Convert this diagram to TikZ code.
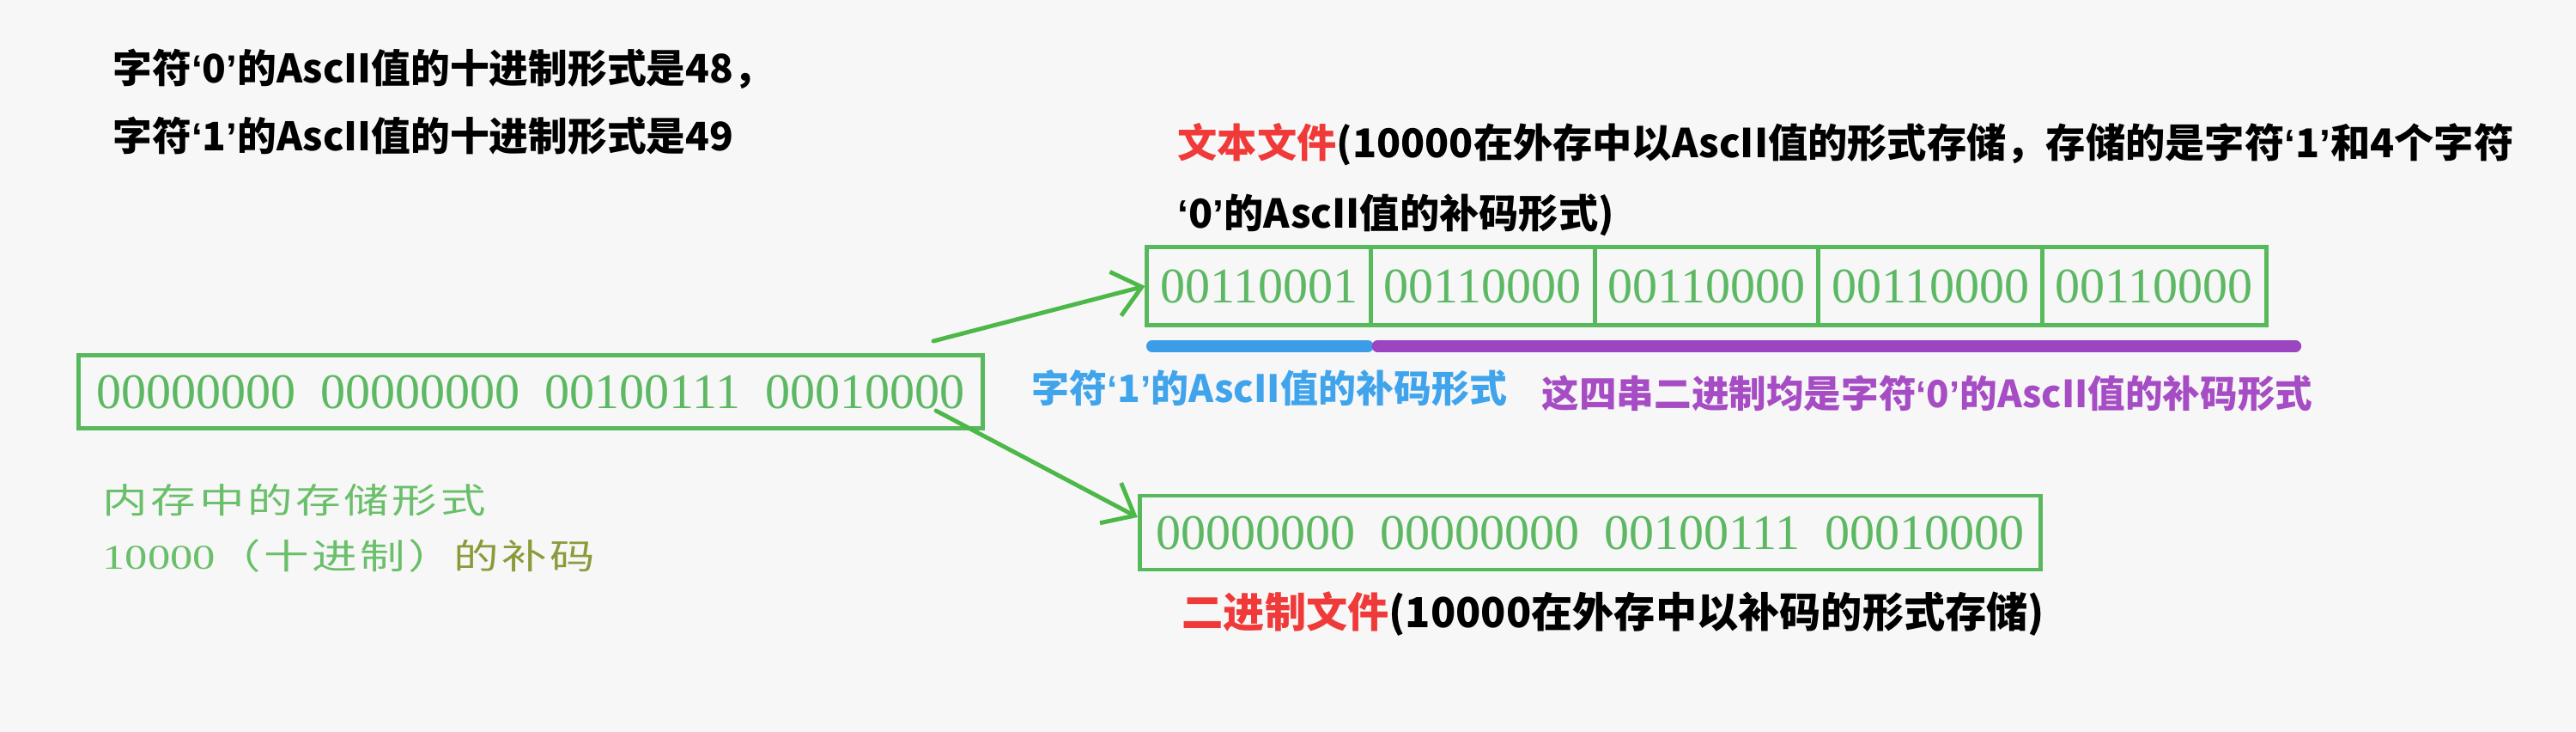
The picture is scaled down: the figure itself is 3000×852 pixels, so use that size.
\documentclass[tikz,border=0pt]{standalone}
\usepackage{fontspec}
\usetikzlibrary{arrows.meta,positioning}
\newfontfamily\cjk{Noto Sans CJK SC}
\newfontfamily\cjkwide{Noto Sans CJK SC}[FakeStretch=1.3,LetterSpace=9]
\newfontfamily\quotefont{Liberation Sans}
\newfontfamily\bitsfont{Liberation Serif}
\newfontfamily\bitswide{Liberation Serif}[FakeStretch=1.3]
\newcommand{\chq}[1]{{\quotefont ‘}#1{\quotefont ’}}
\definecolor{bggray}{HTML}{F7F7F7}
\definecolor{boxgreen}{HTML}{58B85C}
\definecolor{bitgreen}{HTML}{5DB863}
\definecolor{arrowgreen}{HTML}{4CB848}
\definecolor{barblue}{HTML}{3B9DE8}
\definecolor{barpurple}{HTML}{9B45C0}
\definecolor{labelred}{HTML}{F03A3A}
\definecolor{textblue}{HTML}{40A4EC}
\definecolor{textpurple}{HTML}{A64CC4}
\definecolor{memgreen}{HTML}{6ABF6A}
\definecolor{memolive}{HTML}{8C9A3A}
\tikzset{
  cell/.style={draw=boxgreen, line width=1.4pt, inner sep=0pt, text=bitgreen,
    minimum width=2.606cm, minimum height=0.91cm, font=\bitsfont\fontsize{16.5}{18}\selectfont},
  lbl/.style={anchor=west, inner sep=0pt, font=\cjk\bfseries\fontsize{13}{15}\selectfont},
  memlbl/.style={anchor=west, inner sep=0pt, text=memgreen, font=\cjkwide\fontsize{11.5}{13}\selectfont},
  bar/.style={line width=3.7pt, line cap=round},
  flow/.style={draw=arrowgreen, line width=1.4pt, line cap=round,
    -{Straight Barb[length=9pt,width=15pt,line width=1.4pt]}}
}
\begin{document}
\begin{tikzpicture}[x=0.01cm, y=-0.01cm]
    \fill[bggray] (0,0) rectangle (3000,852);
    % ascii values of the two characters
    \node[lbl] (ascii0) at (131,80) {字符\chq{0}的AscII值的十进制形式是48，};
    \node[lbl] (ascii1) at (131,158) {字符\chq{1}的AscII值的十进制形式是49};
    % memory form
    \node[cell, minimum width=10.52cm, minimum height=0.85cm] (mem) at (618,456)
        {00000000\ \ 00000000\ \ 00100111\ \ 00010000};
    \node[memlbl] (memtxt) at (119,582) {内存中的存储形式};
    \node[memlbl] (memtxt2) at (119,647) {{\bitswide 10000}（十进制）\textcolor{memolive}{的补码}};
    % text file
    \node[lbl, font=\cjk\bfseries\fontsize{13.15}{15}\selectfont] (txt) at (1371,168) {\textcolor{labelred}{文本文件}(10000在外存中以AscII值的形式存储，存储的是字符\chq{1}和4个字符};
    \node[lbl, font=\cjk\bfseries\fontsize{13.15}{15}\selectfont] (txt2) at (1371,250) {\chq{0}的AscII值的补码形式)};
    \foreach \i/\bits in {1/00110001,2/00110000,3/00110000,4/00110000,5/00110000}
        \node[cell] (c\i) at ({1336+(\i-0.5)*260.6},333) {\bits};
    \draw[bar, barblue] ([xshift=0.08cm, yshift=-0.22cm]c1.south west) -- ([xshift=-0.06cm, yshift=-0.22cm]c1.south east);
    \draw[bar, barpurple] ([xshift=0.1cm, yshift=-0.22cm]c2.south west) -- ([xshift=0.32cm, yshift=-0.22cm]c5.south east);
    \node[lbl, text=textblue, font=\cjk\bfseries\fontsize{12.5}{14}\selectfont] (one) at (1201,452) {字符\chq{1}的AscII值的补码形式};
    \node[lbl, text=textpurple, font=\cjk\bfseries\fontsize{12.4}{14}\selectfont] (zeros) at (1795,458) {这四串二进制均是字符\chq{0}的AscII值的补码形式};
    % binary file
    \node[cell, minimum width=10.49cm, minimum height=0.86cm] (bin) at (1852,620)
        {00000000\ \ 00000000\ \ 00100111\ \ 00010000};
    \node[lbl, font=\cjk\bfseries\fontsize{13.7}{15}\selectfont] (binlbl) at (1376,715) {\textcolor{labelred}{二进制文件}(10000在外存中以补码的形式存储)};
    % arrows
    \coordinate (a1) at (1087,397);
    \coordinate (a2) at (1090,478);
    \draw[flow] (a1) -- (c1.west);
    \draw[flow] (a2) -- ([yshift=0.18cm]bin.west);
\end{tikzpicture}
\end{document}
